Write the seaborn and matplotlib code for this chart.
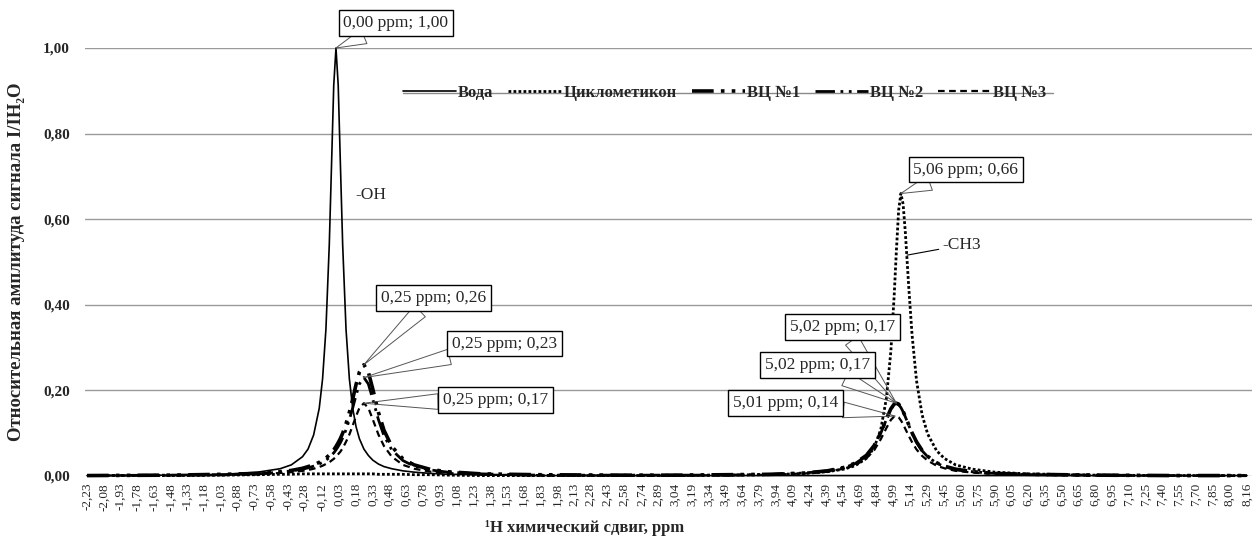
import numpy as np
import pandas as pd
import matplotlib
matplotlib.use("Agg")
import matplotlib.pyplot as plt
from matplotlib.lines import Line2D
import seaborn as sns

# ---------------- data ----------------
ppm = [-2.23, -1.5, -1.0, -0.7, -0.5, -0.4, -0.3, -0.25, -0.2, -0.15, -0.12, -0.09, -0.06, -0.04, -0.02,
       0.0, 0.02, 0.04, 0.06, 0.09, 0.12, 0.15, 0.18, 0.21, 0.25, 0.29, 0.33, 0.38, 0.43, 0.5, 0.6, 0.7,
       0.85, 1.0, 1.3, 1.8, 2.5, 3.0, 3.5, 3.9, 4.2, 4.4, 4.55, 4.65, 4.75, 4.82, 4.88, 4.93, 4.97, 5.0,
       5.02, 5.04, 5.06, 5.08, 5.1, 5.13, 5.16, 5.2, 5.25, 5.3, 5.38, 5.45, 5.55, 5.7, 5.9, 6.2, 6.8, 7.5, 8.16]

voda = [0.001, 0.002, 0.004, 0.009, 0.017, 0.026, 0.045, 0.063, 0.096, 0.158, 0.227, 0.343, 0.540, 0.725, 0.913,
        1.000, 0.913, 0.725, 0.540, 0.343, 0.227, 0.158, 0.115, 0.087, 0.063, 0.048, 0.037, 0.028, 0.022, 0.017,
        0.012, 0.009, 0.006, 0.004, 0.003, 0.001, 0.001, 0.001, 0.001, 0.001, 0.001, 0.001, 0.001, 0.001, 0.001,
        0.001, 0.001, 0.001, 0.001, 0.001, 0.001, 0.001, 0.001, 0.001, 0.001, 0.001, 0.001, 0.001, 0.001, 0.001,
        0.001, 0.001, 0.001, 0.001, 0.001, 0.001, 0.001, 0.001, 0.001]

cyclo = [0.001, 0.001, 0.002, 0.003, 0.004, 0.004, 0.005, 0.005, 0.005, 0.005, 0.005, 0.005, 0.005, 0.005, 0.005,
         0.005, 0.005, 0.005, 0.005, 0.005, 0.005, 0.005, 0.005, 0.005, 0.005, 0.005, 0.005, 0.004, 0.004, 0.004,
         0.004, 0.003, 0.003, 0.002, 0.001, 0.001, 0.001, 0.001, 0.002, 0.003, 0.006, 0.010, 0.016, 0.024, 0.041,
         0.066, 0.109, 0.181, 0.291, 0.422, 0.528, 0.621, 0.660, 0.635, 0.569, 0.443, 0.330, 0.223, 0.143, 0.098,
         0.059, 0.041, 0.026, 0.016, 0.009, 0.005, 0.002, 0.001, 0.001]

vc1 = [0.001, 0.002, 0.004, 0.006, 0.010, 0.013, 0.018, 0.022, 0.026, 0.032, 0.037, 0.042, 0.049, 0.055, 0.061,
       0.069, 0.078, 0.088, 0.100, 0.122, 0.149, 0.180, 0.214, 0.243, 0.260, 0.243, 0.203, 0.149, 0.107, 0.069,
       0.040, 0.026, 0.015, 0.010, 0.005, 0.003, 0.002, 0.002, 0.003, 0.004, 0.007, 0.012, 0.020, 0.030, 0.048,
       0.071, 0.101, 0.133, 0.157, 0.168, 0.170, 0.168, 0.161, 0.151, 0.139, 0.120, 0.101, 0.080, 0.060, 0.046,
       0.031, 0.023, 0.016, 0.010, 0.006, 0.004, 0.002, 0.001, 0.001]

vc2 = [0.001, 0.002, 0.003, 0.005, 0.009, 0.012, 0.016, 0.019, 0.023, 0.028, 0.032, 0.037, 0.043, 0.049, 0.054,
       0.061, 0.069, 0.078, 0.089, 0.108, 0.132, 0.159, 0.189, 0.215, 0.230, 0.215, 0.179, 0.132, 0.094, 0.061,
       0.036, 0.023, 0.014, 0.009, 0.005, 0.002, 0.002, 0.002, 0.002, 0.004, 0.007, 0.012, 0.019, 0.029, 0.047,
       0.070, 0.100, 0.132, 0.156, 0.167, 0.170, 0.167, 0.160, 0.150, 0.138, 0.119, 0.100, 0.079, 0.059, 0.045,
       0.030, 0.022, 0.015, 0.010, 0.006, 0.003, 0.002, 0.001, 0.001]

vc3 = [0.001, 0.001, 0.002, 0.004, 0.007, 0.009, 0.012, 0.014, 0.017, 0.021, 0.024, 0.028, 0.032, 0.036, 0.040,
       0.045, 0.051, 0.057, 0.065, 0.080, 0.097, 0.118, 0.140, 0.159, 0.170, 0.159, 0.132, 0.097, 0.070, 0.045,
       0.026, 0.017, 0.010, 0.007, 0.003, 0.002, 0.001, 0.001, 0.002, 0.003, 0.006, 0.010, 0.017, 0.025, 0.041,
       0.060, 0.086, 0.112, 0.131, 0.139, 0.140, 0.137, 0.130, 0.121, 0.110, 0.094, 0.079, 0.062, 0.047, 0.036,
       0.024, 0.018, 0.012, 0.008, 0.005, 0.003, 0.001, 0.001, 0.000]

series_names = ["Вода", "Циклометикон", "ВЦ №1", "ВЦ №2", "ВЦ №3"]

tick_vals = [-2.23, -2.08, -1.93, -1.78, -1.63, -1.48, -1.33, -1.18, -1.03, -0.88, -0.73, -0.58, -0.43, -0.28,
             -0.12, 0.03, 0.18, 0.33, 0.48, 0.63, 0.78, 0.93, 1.08, 1.23, 1.38, 1.53, 1.68, 1.83, 1.98, 2.13,
             2.28, 2.43, 2.58, 2.74, 2.89, 3.04, 3.19, 3.34, 3.49, 3.64, 3.79, 3.94, 4.09, 4.24, 4.39, 4.54,
             4.69, 4.84, 4.99, 5.14, 5.29, 5.45, 5.60, 5.75, 5.90, 6.05, 6.20, 6.35, 6.50, 6.65, 6.80, 6.95,
             7.10, 7.25, 7.40, 7.55, 7.70, 7.85, 8.00, 8.16]
y_ticks = [0.0, 0.2, 0.4, 0.6, 0.8, 1.0]

# peak callouts: (x, y, label)
callouts = [(0.00, 1.00, "0,00 ppm; 1,00"),
            (0.25, 0.26, "0,25 ppm; 0,26"),
            (0.25, 0.23, "0,25 ppm; 0,23"),
            (0.25, 0.17, "0,25 ppm; 0,17"),
            (5.06, 0.66, "5,06 ppm; 0,66"),
            (5.02, 0.17, "5,02 ppm; 0,17"),
            (5.02, 0.17, "5,02 ppm; 0,17"),
            (5.01, 0.14, "5,01 ppm; 0,14")]
callout_offsets = [(60, 25), (70, 67), (141, 34), (132, 3), (65, 24), (-54, 76), (-79, 38), (-110, 13)]

# ---------------- style ----------------
sns.set_theme(style="white")
plt.rcParams["font.family"] = ["Liberation Serif", "DejaVu Serif"]

fig = plt.figure(figsize=(12.57, 5.46), dpi=100)
ax = fig.add_axes([85 / 1257, (546 - 476) / 546, (1252 - 85) / 1257, (476 - 48) / 546])

df = pd.DataFrame({"ppm": ppm, series_names[0]: voda, series_names[1]: cyclo,
                   series_names[2]: vc1, series_names[3]: vc2, series_names[4]: vc3})
long = df.melt(id_vars="ppm", var_name="series", value_name="amp")

styles = {
    "Вода": dict(ls="-", lw=1.2),
    "Циклометикон": dict(ls=(0, (1, 0.8)), lw=2.0),
    "ВЦ №1": dict(ls=(0, (6, 2, 1, 2, 1, 2)), lw=2.6),
    "ВЦ №2": dict(ls=(0, (7, 2, 1, 2, 1, 2)), lw=2.0),
    "ВЦ №3": dict(ls=(0, (3, 2)), lw=1.6),
}

for name in series_names:
    sub = long[long["series"] == name]
    st = styles[name]
    sns.lineplot(data=sub, x="ppm", y="amp", ax=ax, color="black", linewidth=st["lw"],
                 linestyle=st["ls"], label=name, legend=False, clip_on=False, zorder=3)

ax.set_xlim(-2.248, 8.205)
ax.set_ylim(0, 1.0)
ax.set_yticks(y_ticks)
ax.set_yticklabels([f"{v:.2f}".replace(".", ",") for v in y_ticks],
                   fontsize=11, fontweight="bold")
ax.set_xticks(tick_vals)
ax.set_xticklabels([f"{v:.2f}".replace(".", ",") for v in tick_vals], rotation=90, fontsize=9.5)
ax.tick_params(axis="both", length=0)
ax.tick_params(axis="y", pad=11)
ax.tick_params(axis="x", pad=5)
ax.grid(False)
for yv in y_ticks:
    ax.axhline(yv, color="#9a9a9a", lw=1.0, zorder=1)
for s in ax.spines.values():
    s.set_visible(False)

ax.set_xlabel("")
ax.set_ylabel("Относительная амплитуда сигнала I/IH₂O", fontsize=13.5, fontweight="bold", labelpad=13)
fig.text(585 / 1257, 1 - 528 / 546, "¹H химический сдвиг, ppm", ha="center", va="center",
         fontsize=12, fontweight="bold")

# callouts
for (xv, yv, txt), (dx, dy) in zip(callouts, callout_offsets):
    ax.annotate(txt, xy=(xv, yv), xytext=(dx, dy), textcoords="offset pixels",
                ha="center", va="center", fontsize=12.5, zorder=6, annotation_clip=False,
                bbox=dict(boxstyle="square,pad=0.28", fc="white", ec="black", lw=1.0),
                arrowprops=dict(arrowstyle="wedge,tail_width=0.9,shrink_factor=0.5",
                                fc="none", ec="#555555", lw=0.7, shrinkA=0, shrinkB=0))

ax.annotate("-OH", xy=(0.0, 1.0), xytext=(19, -147), textcoords="offset pixels",
            ha="left", va="center", fontsize=12.5, annotation_clip=False)
ax.annotate("-CH3", xy=(5.115, 0.516), xytext=(35, 10), textcoords="offset pixels",
            ha="left", va="center", fontsize=12.5, annotation_clip=False,
            arrowprops=dict(arrowstyle="-", color="black", lw=0.8, shrinkA=0, shrinkB=0))

# legend
handles = [Line2D([0], [0], color="black", lw=styles[n]["lw"], ls=styles[n]["ls"]) for n in series_names]
fig.lines.append(Line2D([403 / 1257, 1053 / 1257], [1 - 93 / 546, 1 - 93 / 546],
                        transform=fig.transFigure, color="#8a8a8a", lw=1.0, zorder=0))
leg = fig.legend(handles, series_names, loc="center left",
                 bbox_to_anchor=(403 / 1257, 1 - 93 / 546), ncol=5, frameon=False,
                 handlelength=3.2, handletextpad=0.1, columnspacing=0.9,
                 prop=dict(family=["Liberation Serif", "DejaVu Serif"], weight="bold", size=12),
                 borderpad=0, borderaxespad=0)

fig.savefig("out.png", dpi=100)
